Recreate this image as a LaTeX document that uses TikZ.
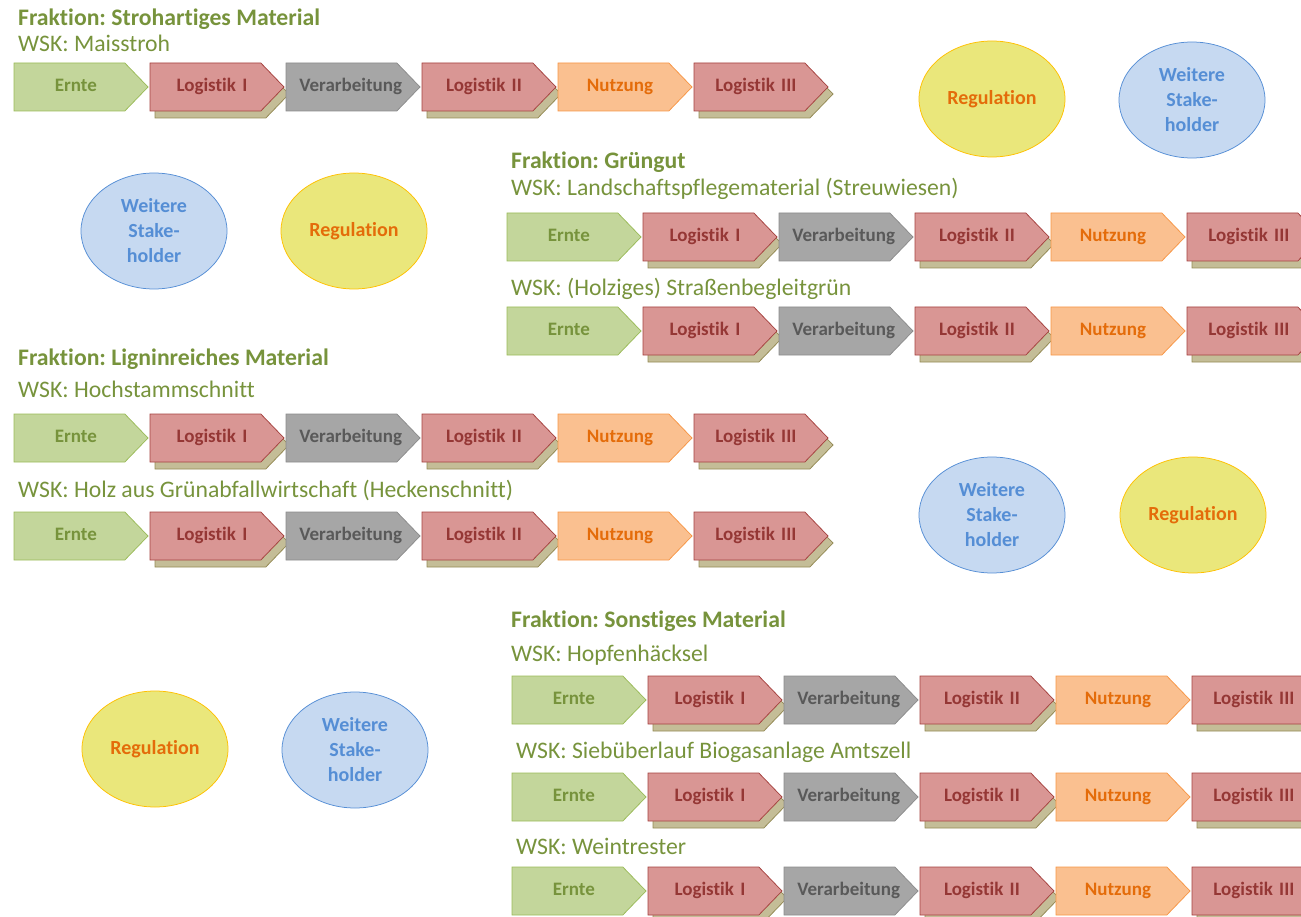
\documentclass[tikz,border=0pt]{standalone}
\usepackage{fontspec}
\setmainfont{Carlito}[Ligatures=NoCommon]
\frenchspacing
\usetikzlibrary{positioning}
\usetikzlibrary{shapes.symbols}
\usetikzlibrary{shapes.geometric}
\usetikzlibrary{shadows}

\definecolor{oliveText}{HTML}{77933C}
\definecolor{ernteFill}{HTML}{C3D69B}
\definecolor{ernteLine}{HTML}{9BBB59}
\definecolor{logiFill}{HTML}{D99694}
\definecolor{logiLine}{HTML}{A5423F}
\definecolor{logiText}{HTML}{953735}
\definecolor{shadowFill}{HTML}{C4BD97}
\definecolor{shadowLine}{HTML}{948A54}
\definecolor{grayFill}{HTML}{A6A6A6}
\definecolor{grayLine}{HTML}{8C8C8C}
\definecolor{grayText}{HTML}{595959}
\definecolor{nutzFill}{HTML}{FAC090}
\definecolor{nutzLine}{HTML}{F79646}
\definecolor{nutzText}{HTML}{E46C0A}
\definecolor{reguFill}{HTML}{EAE77B}
\definecolor{reguLine}{HTML}{FFC000}
\definecolor{stakeFill}{HTML}{C6D9F1}
\definecolor{stakeLine}{HTML}{558ED5}

\tikzset{
  stage/.style={signal, signal to=east, signal from=nothing, signal pointer angle=92,
    minimum width=134pt, minimum height=48pt, inner sep=0pt, outer sep=0pt, line width=0.75pt,
    text width=110pt, align=center,
    execute at begin node={\hyphenpenalty=10000\relax\strut\hspace*{13pt}},
    font=\fontsize{19}{22}\selectfont\bfseries},
  ernte/.style={stage, fill=ernteFill, draw=ernteLine, text=oliveText},
  logi/.style={stage, fill=logiFill, draw=logiLine, text=logiText,
    copy shadow={fill=shadowFill, draw=shadowLine, shadow xshift=5pt, shadow yshift=-7pt}},
  verarb/.style={stage, fill=grayFill, draw=grayLine, text=grayText},
  nutz/.style={stage, fill=nutzFill, draw=nutzLine, text=nutzText},
  oval/.style={ellipse, minimum width=146pt, minimum height=116pt, inner sep=0pt,
    line width=0.75pt, align=center, font=\fontsize{20}{25}\selectfont\bfseries},
  regu/.style={oval, fill=reguFill, draw=reguLine, text=nutzText},
  stake/.style={oval, fill=stakeFill, draw=stakeLine, text=stakeLine},
  fraktion/.style={anchor=base west, inner sep=0pt, text=oliveText,
    font=\fontsize{23.7}{27}\selectfont\bfseries},
  wsk/.style={anchor=base west, inner sep=0pt, text=oliveText,
    font=\fontsize{23.7}{27}\selectfont},
}

\begin{document}
\begin{tikzpicture}[x=1pt, y=-1pt]
\useasboundingbox (0,0) rectangle (1301,917);
\clip (0,0) rectangle (1301,917);

% headings
\node[fraktion] (f1) at (18,26) {Fraktion: Strohartiges Material};
\node[wsk] (w1) at (18,52) {WSK: Maisstroh};
\node[fraktion] (f2) at (511,169) {Fraktion: Grüngut};
\node[wsk] (w2) at (511,196) {WSK: Landschaftspflegematerial (Streuwiesen)};
\node[wsk] (w3) at (511,296) {WSK: (Holziges) Straßenbegleitgrün};
\node[fraktion] (f3) at (18,365) {Fraktion: Ligninreiches Material};
\node[wsk] (w4) at (18,397) {WSK: Hochstammschnitt};
\node[wsk] (w5) at (18,497) {WSK: Holz aus Grünabfallwirtschaft (Heckenschnitt)};
\node[fraktion] (f4) at (511,627) {Fraktion: Sonstiges Material};
\node[wsk] (w6) at (511,661) {WSK: Hopfenhäcksel};
\node[wsk] (w7) at (516,758) {WSK: Siebüberlauf Biogasanlage Amtszell};
\node[wsk] (w8) at (516,854) {WSK: Weintrester};

% value chains
\foreach \r/\x/\y in {a/14/87, b/507/237, c/507/331, d/14/438, e/14/536, f/512/700, g/512/797, h/512/891}{
  \node[ernte, anchor=west] (\r1) at (\x,\y) {Ernte};
  \node[logi, right=2pt of \r1] (\r2) {Logistik I};
  \node[verarb, right=2pt of \r2] (\r3) {Verarbeitung};
  \node[logi, right=2pt of \r3] (\r4) {Logistik II};
  \node[nutz, right=2pt of \r4] (\r5) {Nutzung};
  \node[logi, right=2pt of \r5] (\r6) {Logistik III};
}

% stakeholders
\node[regu] (reg1) at (992,99) {Regulation};
\node[stake] (sta1) at (1192,100) {Weitere\\Stake-\\holder};
\node[stake] (sta2) at (154,231) {Weitere\\Stake-\\holder};
\node[regu] (reg2) at (354,231) {Regulation};
\node[stake] (sta3) at (992,515) {Weitere\\Stake-\\holder};
\node[regu] (reg3) at (1193,515) {Regulation};
\node[regu] (reg4) at (155,749) {Regulation};
\node[stake] (sta4) at (355,750) {Weitere\\Stake-\\holder};

\end{tikzpicture}
\end{document}
